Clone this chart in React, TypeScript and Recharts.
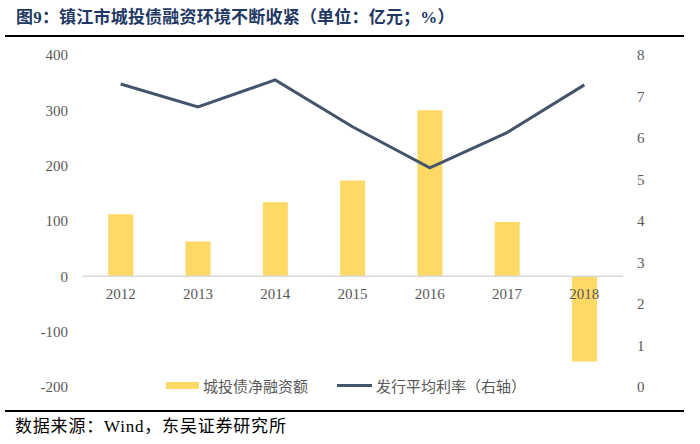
import React from 'react';
import {
  ComposedChart,
  Bar,
  Line,
  XAxis,
  YAxis,
  ReferenceLine,
  LabelList,
} from 'recharts';

const years = ['2012', '2013', '2014', '2015', '2016', '2017', '2018'];
const netFinancing = [112, 63, 134, 173, 300, 98, -154];
const avgRate = [7.3, 6.75, 7.4, 6.27, 5.28, 6.13, 7.28];
const leftTicks = [-200, -100, 0, 100, 200, 300, 400];
const rightTicks = [0, 1, 2, 3, 4, 5, 6, 7, 8];

const barName = '城投债净融资额';
const lineName = '发行平均利率（右轴）';

const data = years.map((year, i) => ({
  year,
  financing: netFinancing[i],
  rate: avgRate[i],
  zero: 0,
}));

const serif = '"Liberation Serif", "Times New Roman", "Noto Sans CJK SC", serif';
const cjk = '"Liberation Serif", "Noto Sans CJK SC", serif';
const tickStyle = { fill: '#595959', fontSize: 15, fontFamily: serif };

export default function App() {
  return (
    <div
      style={{
        position: 'absolute',
        left: 0,
        top: 0,
        width: 700,
        height: 444,
        background: '#ffffff',
        overflow: 'hidden',
      }}
    >
      <div
        style={{
          position: 'absolute',
          left: 16,
          top: 7,
          fontSize: 17,
          fontWeight: 'bold',
          color: '#1F3864',
          fontFamily: cjk,
          whiteSpace: 'nowrap',
          lineHeight: '22px',
          letterSpacing: '0.2px',
        }}
      >
        图9：镇江市城投债融资环境不断收紧（单位：亿元；%）
      </div>
      <div
        style={{
          position: 'absolute',
          left: 5,
          top: 35,
          width: 679,
          height: 2,
          background: '#000',
        }}
      />
      <div style={{ position: 'absolute', left: 0, top: 0 }}>
        <ComposedChart
          width={700}
          height={444}
          data={data}
          margin={{ top: 55, right: 0, bottom: 57, left: 0 }}
          barCategoryGap="34%"
        >
          <XAxis dataKey="year" xAxisId="x" hide />
          <YAxis
            yAxisId="left"
            orientation="left"
            domain={[-200, 400]}
            ticks={leftTicks}
            width={82}
            axisLine={false}
            tickLine={false}
            tickMargin={8}
            tick={tickStyle}
            interval={0}
          />
          <YAxis
            yAxisId="right"
            orientation="right"
            domain={[0, 8]}
            ticks={rightTicks}
            width={77}
            axisLine={false}
            tickLine={false}
            tickMargin={8}
            tick={{ ...tickStyle, textAnchor: 'start' }}
            interval={0}
          />
          <Bar
            dataKey="financing"
            name={barName}
            xAxisId="x"
            yAxisId="left"
            fill="#FFD966"
            isAnimationActive={false}
          />
          <ReferenceLine
            y={0}
            xAxisId="x"
            yAxisId="left"
            stroke="#D9D9D9"
            strokeWidth={1.5}
            ifOverflow="extendDomain"
          />
          <Line
            dataKey="zero"
            xAxisId="x"
            yAxisId="left"
            stroke="none"
            dot={false}
            activeDot={false}
            legendType="none"
            isAnimationActive={false}
          >
            <LabelList
              dataKey="year"
              position="bottom"
              offset={12}
              fill="#595959"
              fontSize={15}
              fontFamily={serif}
            />
          </Line>
          <Line
            dataKey="rate"
            name={lineName}
            xAxisId="x"
            yAxisId="right"
            type="linear"
            stroke="#44546A"
            strokeWidth={3}
            dot={false}
            activeDot={false}
            isAnimationActive={false}
          />
        </ComposedChart>
      </div>
      <div
        style={{
          position: 'absolute',
          left: 166,
          top: 375,
          height: 20,
          display: 'flex',
          alignItems: 'center',
          fontSize: 15,
          color: '#595959',
          fontFamily: cjk,
          whiteSpace: 'nowrap',
        }}
      >
        <span style={{ display: 'inline-block', width: 33, height: 7, background: '#FFD966', marginRight: 4 }} />
        <span>{barName}</span>
        <span style={{ display: 'inline-block', width: 35, height: 3, background: '#44546A', marginLeft: 29, marginRight: 4 }} />
        <span>{lineName}</span>
      </div>
      <div
        style={{
          position: 'absolute',
          left: 5,
          top: 410,
          width: 679,
          height: 2,
          background: '#000',
        }}
      />
      <div
        style={{
          position: 'absolute',
          left: 15,
          top: 416,
          fontSize: 17,
          color: '#000',
          fontFamily: cjk,
          whiteSpace: 'nowrap',
          lineHeight: '22px',
          letterSpacing: '0.8px',
        }}
      >
        数据来源：Wind，东吴证券研究所
      </div>
    </div>
  );
}
